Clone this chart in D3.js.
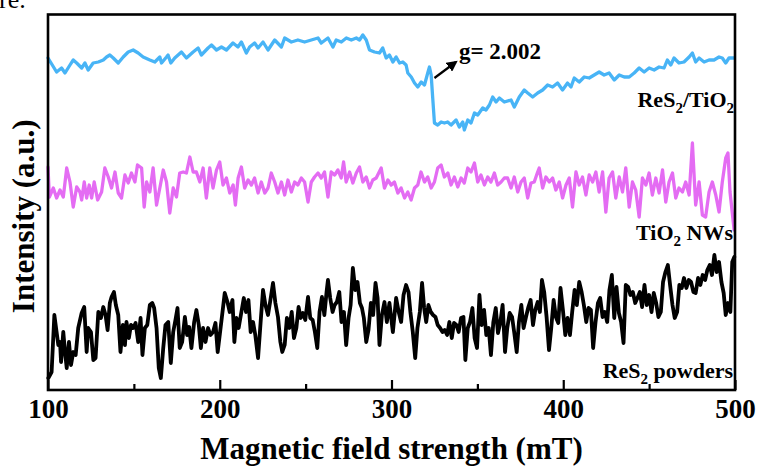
<!DOCTYPE html>
<html>
<head>
<meta charset="utf-8">
<script src="https://cdn.jsdelivr.net/npm/d3@7"></script>
<style>
  html, body { margin: 0; padding: 0; background: #fff; }
  svg { display: block; }
  text { font-family: "Liberation Serif", "Times New Roman", serif; fill: #000; }
</style>
</head>
<body>
<svg id="chart" width="760" height="468"></svg>
<script>
// Magnetic field (mT) and EPR intensity (a.u., offset per trace) for each sample.
const resTioField = [
  100,105,107.9,109.9,112.8,114.7,116.7,119.6,121.5,123.4,
  126.3,129.3,132.2,134.1,136,138,140.9,143.8,146.7,149.6,
  152.5,155.4,159.3,162.2,165.1,166.1,169,169.9,171.5,173.8,
  177.7,180.6,184.5,187.4,189.3,193.2,195.2,198.1,201,203.9,
  207.7,210.6,212.6,215.5,217.4,220.3,222.3,225.2,228.1,232,
  235.9,237.8,241.7,245.5,249.4,253.3,257.2,259.1,263,265.9,
  267.8,270.8,273.7,276.6,279.5,281.4,283.3,285.3,287.2,290.1,
  293,294.9,296.9,298.8,300.8,302.7,304.7,306.6,308.5,309.5,
  311.5,313.4,315.3,317.3,319.2,321.1,322.1,323.1,324,325,
  326.9,328.9,330.8,332.7,334.7,337.6,339.5,341.5,342.4,344.4,
  346.3,348.3,350.2,353.1,355,357,358.9,360.9,362.8,365.7,
  369.6,371.5,374.4,377.3,379.3,382.2,385.1,388,390.9,393.8,
  396.7,399.6,402.5,404.5,406.4,409.3,412.2,415.1,418,420.9,
  423.8,426.7,429.7,432.6,435.5,438.4,441.3,444.2,447.1,450,
  452.9,455.8,458.7,460.6,462.6,464.5,467.4,470.3,473.3,475.2,
  477.1,479.1,482,484.9,487.8,490.7,492.6,494.6,496.5,499.4
];
const resTioValue = [
  335,321,325,320,328,333,330,325,330,323,
  330,331,333,336,338,335,330,336,341,343,
  340,336,333,331,336,330,336,338,330,335,
  341,335,341,345,338,345,348,343,346,343,
  350,346,351,340,346,350,345,351,343,353,
  346,355,351,353,351,353,355,350,355,346,
  353,351,355,353,355,353,358,353,343,341,
  340,345,335,338,331,336,330,331,328,320,
  316,310,306,311,308,320,326,318,295,270,
  268,271,270,271,268,273,266,271,263,273,
  270,280,278,285,283,288,296,291,295,291,
  293,286,296,303,300,296,300,303,308,306,
  310,303,310,306,315,311,316,315,318,321,
  318,320,313,318,316,316,320,325,321,325,
  323,326,325,333,328,335,330,331,336,340,
  331,335,331,333,333,336,335,330,335,335
];

const tioField = [
  100,100.8,103.1,105,107,108.9,110.9,112.8,114.7,116.7,
  118.6,119.6,121.1,122.5,124,125.4,126.9,128.9,131.2,133.1,
  135.1,137,139,140.9,142.8,144.8,146.7,148.6,150.6,152.1,
  154.5,156,157.4,159.3,161.2,163.2,165.1,167.1,169,170.9,
  172.9,174.8,176.7,178.7,180.6,182.6,184.5,186.4,188.4,190.3,
  192.2,194.2,196.1,198.1,200,201.9,203.9,205.8,207.8,209.1,
  210.7,212.6,214.5,216.5,218.4,220.3,222.3,224.2,226.2,228.1,
  230,232,233.9,235.9,237.8,239.7,241.7,243.6,245.5,247.5,
  249.4,251.4,253.3,255.2,257.2,259.1,261,263,264.9,266.9,
  268.8,270.7,272.1,273.6,275.6,277.5,279.5,281.4,283.3,285.3,
  287.2,289.1,291.1,294,295.9,297.9,299.8,301.7,303.7,305.6,
  307.6,309.5,311.4,313.4,315.3,317.2,319.2,321.1,323.1,325,
  326.9,328.9,330.8,332.8,334.7,336.6,338.6,340.5,342.4,344.4,
  346.3,348.3,350.2,352.1,354.1,356,357.9,359.9,361.8,363.8,
  365.7,367.6,369.6,371.5,373.5,375.4,377.3,379.3,381.2,383.1,
  385.1,386,388,389.9,391.9,393.8,395.7,397.7,399.6,401.6,
  403.5,405.4,407.4,409.3,411.2,413.2,415.1,417.1,419,420.9,
  422.9,424.8,426.7,428.7,430.6,432.6,434.5,436.4,438.4,440.3,
  442.2,444.2,446.1,448.1,450,451.9,453.9,455.8,457.8,459.7,
  461.6,463.6,465.5,467.4,469.4,471.3,473.3,475.2,477.1,479.1,
  481,482.9,484.9,486.8,488.8,490.7,492.6,494.6,495.9,497.1,
  499.5
];
const tioValue = [
  226,196,205,195,203,196,225,211,186,206,
  201,193,211,195,208,195,211,193,201,225,
  216,205,221,200,195,218,210,220,211,228,
  225,186,211,201,225,188,205,223,211,180,
  205,196,220,221,220,236,221,221,211,225,
  195,225,205,223,231,208,215,200,208,188,
  215,226,205,213,208,215,200,211,200,205,
  220,211,200,211,198,213,201,211,208,215,
  211,191,211,216,220,215,221,196,221,218,
  223,215,231,211,221,210,220,226,211,216,
  205,213,215,225,205,213,208,211,200,205,
  195,201,193,205,208,221,211,216,205,211,
  225,228,216,220,208,216,206,215,210,225,
  221,230,211,218,208,216,211,220,208,211,
  215,215,205,216,201,211,215,195,210,211,
  221,225,205,216,211,215,203,211,195,208,
  215,186,221,208,216,198,218,211,221,201,
  221,181,215,221,195,216,201,225,186,211,
  203,176,215,208,220,198,215,200,223,191,
  211,220,195,205,201,211,198,250,188,211,
  178,176,201,211,198,181,211,235,240,201,
  163
];

const resField = [
  100.2,102.1,103.7,105,106,107,107.6,108.9,109.9,110.9,
  112.2,113.4,114.7,116.1,117.6,119.6,121.1,122.5,123.4,125,
  126.4,127.7,129.3,130.8,132.2,133.5,134.7,136,137,138.4,
  139.5,140.9,142.2,143.6,144.8,145.7,147.1,148.3,149.6,151,
  152.5,153.9,155,156.4,157.8,159.3,160.7,161.8,163.2,164.5,
  165.7,167.1,168.4,170,171.5,172.9,174.2,175.4,176.7,178.1,
  179.7,181,182.2,183.5,185.1,186.4,187.8,189,190.3,191.7,
  193.2,194.6,196.1,197.5,198.8,200.2,201.6,202.9,204.5,205.8,
  207.4,208.5,209.7,211,212.6,214,215.3,216.7,218,219.4,
  220.7,222.3,223.8,225.2,226.6,228.1,229.5,231,232.4,233.9,
  235.3,236.4,237.8,239.1,240.5,241.9,243.2,244.6,245.9,247.1,
  248.4,249.8,251.4,252.7,254.1,255.4,256.8,258.1,259.5,260.9,
  262.2,263,264.3,265.7,266.9,268.2,269.6,270.9,272.3,273.6,
  275,276.2,277.5,278.9,280.2,281.6,282.8,283.9,285.3,286.6,
  288,289.3,290.7,291.9,293,294.4,295.9,297.3,298.8,300.8,
  302.7,304.2,305.6,307,308.5,309.9,311,312.4,313.8,315.1,
  316.5,317.8,319,320.2,321.5,322.9,324.2,325.6,326.9,328.3,
  329.7,331,332.4,333.7,335.1,336.4,337.8,339.1,340.5,341.9,
  343,344.4,345.7,347.1,348.4,349.8,351.2,352.5,353.9,355.2,
  356.6,357.9,359.3,360.7,362,363.4,364.7,366.1,367.4,368.8,
  370.2,371.5,372.9,374.2,375.6,376.9,378.3,379.7,381,382.4,
  383.7,385.1,386.4,387.6,388.9,390.3,391.7,393,394.4,395.7,
  397.1,398.4,399.8,401.2,402.5,403.9,405.2,406.6,407.9,409.3,
  410.7,412,413.4,414.7,416.1,417.4,418.8,420.2,421.5,422.9,
  424.2,425.6,426.9,428.3,429.7,431,432.4,433.7,435.1,436.4,
  437.8,439.1,440.5,441.9,443.2,444.6,445.9,447.3,448.6,450,
  451.4,452.7,454.1,455.4,456.8,458.1,459.5,460.9,462.2,463.6,
  464.9,466.3,467.6,469,470.3,471.7,473.1,474.4,475.8,477.1,
  478.5,479.8,481.2,482.6,483.9,485.3,486.6,488,489.3,490.7,
  492.1,493.4,494.6,495.9,497.3,498.4,499.6
];
const resValue = [
  15,21,78,61,48,51,31,61,41,25,
  51,28,41,38,65,80,86,41,65,61,
  33,35,81,75,86,78,63,90,96,101,
  88,78,41,68,48,71,55,68,65,70,
  51,75,38,65,68,88,90,85,65,25,
  15,45,68,71,30,61,73,85,45,51,
  76,58,66,45,71,83,68,45,65,51,
  65,58,61,70,41,61,81,100,91,81,
  93,51,75,65,81,95,81,93,61,71,
  58,35,71,103,88,78,93,110,90,76,
  51,41,48,75,65,81,55,65,86,75,
  80,73,96,75,73,61,45,81,96,78,
  101,113,95,81,88,91,101,71,81,48,
  75,88,125,103,111,90,85,75,51,63,
  90,78,110,95,48,78,91,71,90,61,
  95,81,71,98,108,101,81,61,35,65,
  81,110,85,71,88,81,78,76,68,65,
  61,63,58,71,55,70,68,61,75,76,
  33,65,71,85,55,45,98,68,83,58,
  65,38,71,85,60,71,88,41,65,80,
  76,60,41,71,88,65,76,86,93,68,
  83,91,81,113,101,76,43,65,93,76,
  70,105,83,58,75,58,81,103,88,111,
  101,88,71,85,83,45,71,90,95,76,
  81,71,103,118,75,106,80,71,50,108,
  106,98,101,90,95,101,86,108,88,98,
  81,100,90,76,81,111,121,128,108,88,
  75,81,108,105,115,105,113,111,101,100,
  115,108,118,113,123,128,118,138,121,131,
  111,100,78,90,81,131,136
];

const xTicks = [100, 200, 300, 400, 500];
const xMinorTicks = [150, 250, 350, 450];

const series = [
  { field: resTioField, value: resTioValue, color: "#48b4f6", width: 3.3 },
  { field: tioField, value: tioValue, color: "#e46cf3", width: 3.3 },
  { field: resField, value: resValue, color: "#000000", width: 3.8 }
];

const svg = d3.select("#chart");
const plot = { left: 48, right: 735, top: 14.5, bottom: 390 };

const x = d3.scaleLinear().domain([100, 500]).range([plot.left, plot.right]);
const y = d3.scaleLinear().domain([3, 378.5]).range([plot.bottom, plot.top]);

// fragment of the caption line above the figure
svg.append("text")
  .attr("x", -1).attr("y", 8)
  .attr("font-size", 26)
  .text("re.");

// traces
const line = d3.line()
  .x(d => x(d[0]))
  .y(d => y(d[1]));

const traces = svg.append("g");
series.forEach(s => {
  const pts = s.field.map((f, i) => [f, s.value[i]]);
  traces.append("path")
    .datum(pts)
    .attr("fill", "none")
    .attr("stroke", s.color)
    .attr("stroke-width", s.width)
    .attr("stroke-linejoin", "round")
    .attr("stroke-linecap", "round")
    .attr("d", line);
});

// frame
svg.append("rect")
  .attr("x", plot.left).attr("y", plot.top)
  .attr("width", plot.right - plot.left)
  .attr("height", plot.bottom - plot.top)
  .attr("fill", "none")
  .attr("stroke", "#000")
  .attr("stroke-width", 2.6);

// bottom axis: major ticks with labels, minor ticks without, all pointing inward
const gx = svg.append("g")
  .attr("transform", `translate(0,${plot.bottom})`)
  .call(d3.axisBottom(x).tickValues(xTicks).tickSize(-10).tickPadding(9).tickFormat(d3.format("d")));
gx.select(".domain").remove();
gx.selectAll(".tick line").attr("stroke", "#000").attr("stroke-width", 2.2);
gx.selectAll(".tick text")
  .attr("font-family", "Liberation Serif, Times New Roman, serif")
  .attr("font-weight", "bold")
  .attr("font-size", 27)
  .attr("fill", "#000");

const gxm = svg.append("g")
  .attr("transform", `translate(0,${plot.bottom})`)
  .call(d3.axisBottom(x).tickValues(xMinorTicks).tickSize(-6).tickFormat(""));
gxm.select(".domain").remove();
gxm.selectAll(".tick line").attr("stroke", "#000").attr("stroke-width", 2.2);

// axis titles
svg.append("text")
  .attr("x", (plot.left + plot.right) / 2)
  .attr("y", 459)
  .attr("text-anchor", "middle")
  .attr("font-weight", "bold")
  .attr("font-size", 31)
  .text("Magnetic field strength (mT)");

svg.append("text")
  .attr("transform", `translate(34,${(plot.top + plot.bottom) / 2 + 14}) rotate(-90)`)
  .attr("text-anchor", "middle")
  .attr("font-weight", "bold")
  .attr("font-size", 31)
  .text("Intensity (a.u.)");

// sample labels
function label(parts, xr, yb) {
  const t = svg.append("text")
    .attr("x", xr).attr("y", yb)
    .attr("text-anchor", "end")
    .attr("font-weight", "bold")
    .attr("font-size", 22);
  parts.forEach(p => {
    const ts = t.append("tspan").text(p.t);
    if (p.sub) ts.attr("font-size", 15).attr("dy", 6);
    else if (p.after) ts.attr("dy", -6);
  });
}
label([{ t: "ReS" }, { t: "2", sub: true }, { t: "/TiO", after: true }, { t: "2", sub: true }], 734, 107);
label([{ t: "TiO" }, { t: "2", sub: true }, { t: " NWs", after: true }], 733, 240);
label([{ t: "ReS" }, { t: "2", sub: true }, { t: " powders", after: true }], 733, 378);

// g-factor annotation with arrow
const gArrow = { from: [325, 315], to: [337.5, 331] };
svg.append("defs").append("marker")
  .attr("id", "arrowhead")
  .attr("viewBox", "0 0 10 10")
  .attr("refX", 8).attr("refY", 5)
  .attr("markerWidth", 5).attr("markerHeight", 5)
  .attr("orient", "auto")
  .append("path").attr("d", "M0,0 L10,5 L0,10 z").attr("fill", "#000");
svg.append("line")
  .attr("x1", x(gArrow.from[0])).attr("y1", y(gArrow.from[1]))
  .attr("x2", x(gArrow.to[0])).attr("y2", y(gArrow.to[1]))
  .attr("stroke", "#000").attr("stroke-width", 2.2)
  .attr("marker-end", "url(#arrowhead)");
svg.append("text")
  .attr("x", 459).attr("y", 59)
  .attr("font-weight", "bold")
  .attr("font-size", 23)
  .text("g= 2.002");
</script>
</body>
</html>
